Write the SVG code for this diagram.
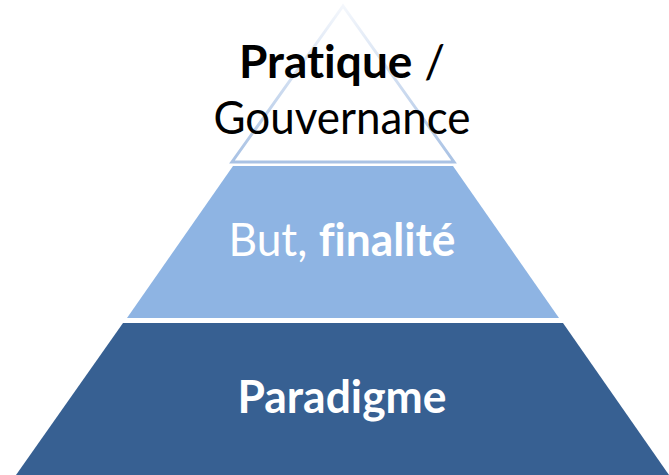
<svg xmlns="http://www.w3.org/2000/svg" width="669" height="475" viewBox="0 0 669 475">
<style>
.t{font-family:Lato,"Open Sans","Liberation Sans",sans-serif;font-size:46px;text-anchor:middle;font-variant-ligatures:none;font-feature-settings:"liga" 0,"dlig" 0}
.b{font-weight:bold}
</style>
<defs>
<linearGradient id="edge" x1="0" y1="0" x2="0" y2="1">
<stop offset="0" stop-color="#f4f7fc"/>
<stop offset="1" stop-color="#a9c2e4"/>
</linearGradient>
</defs>
<rect width="669" height="475" fill="#ffffff"/>
<g id="top">
<polygon points="343,6 232,162 454,162" fill="#ffffff" stroke="url(#edge)" stroke-width="3"/>
<text class="t" x="342" y="78" fill="#000000"><tspan class="b">Pratique</tspan> /</text>
<text class="t" x="342" y="134" fill="#000000" textLength="257" lengthAdjust="spacingAndGlyphs">Gouvernance</text>
</g>
<g id="middle">
<polygon points="233,166 453,166 559,318 127,318" fill="#8eb4e3"/>
<text class="t" x="342" y="256" fill="#ffffff" textLength="227" lengthAdjust="spacingAndGlyphs">But, <tspan class="b">finalité</tspan></text>
</g>
<g id="bottom">
<polygon points="123,323 563,323 669,475 16,475" fill="#376092"/>
<text class="t b" x="342" y="413" fill="#ffffff" textLength="209" lengthAdjust="spacingAndGlyphs">Paradigme</text>
</g>
</svg>
